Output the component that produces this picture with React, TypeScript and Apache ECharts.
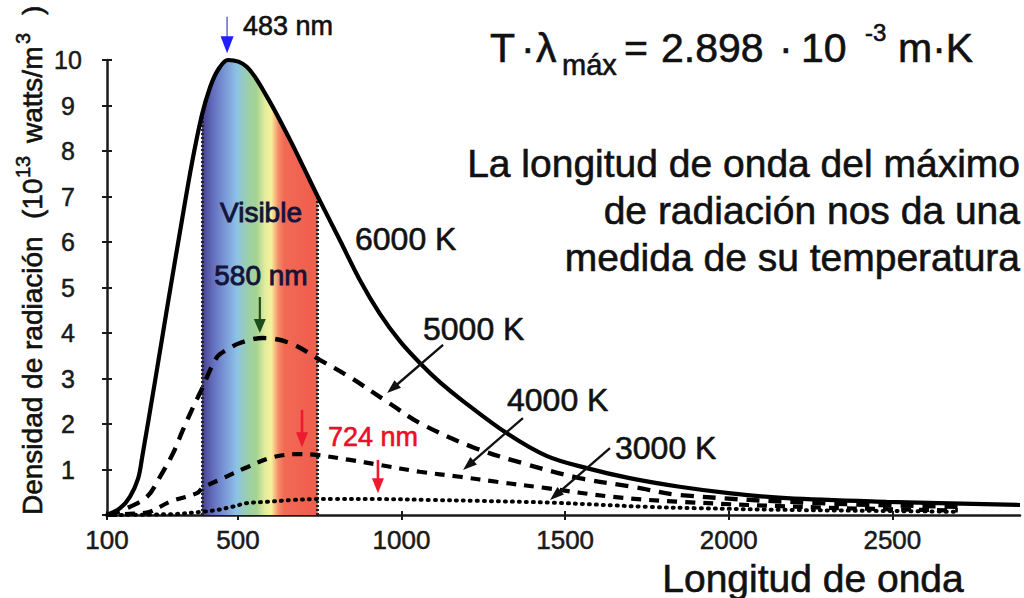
import React, { useEffect, useRef } from "react";
import * as echarts from "echarts";

const FONT = "'Liberation Sans', Arial, Helvetica, sans-serif";

// axes
const X_MIN = 100;
const X_MAX = 2890;
const X_TICKS = [100, 500, 1000, 1500, 2000, 2500];
const Y_MIN = 0;
const Y_MAX = 10;
const Y_STEP = 1;

// 6000 K (solid)
const NM_6000 = [100, 140, 170, 195, 207, 247, 286, 326, 360, 390, 415, 439, 470, 527, 589, 659, 700, 744, 811, 873, 934, 995, 1056, 1117, 1187, 1321, 1443, 1566, 1697, 1850, 2000, 2176, 2482, 2890];
const V_6000 = [0, 0.15, 0.4, 0.8, 1.25, 2.95, 4.65, 6.35, 7.75, 8.79, 9.4, 9.78, 10.0, 9.85, 9.19, 8.25, 7.65, 7.0, 6.05, 5.16, 4.42, 3.82, 3.34, 2.92, 2.51, 1.8, 1.3, 1.03, 0.81, 0.62, 0.48, 0.37, 0.29, 0.22];

// 5000 K (dashed)
const NM_5000 = [100, 149, 222, 262, 302, 332, 363, 384, 436, 466, 506, 576, 659, 750, 842, 964, 1056, 1218, 1370, 1544, 1706, 1850, 2277, 2714];
const V_5000 = [0, 0.11, 0.4, 0.84, 1.36, 1.87, 2.37, 2.68, 3.47, 3.63, 3.78, 3.89, 3.78, 3.41, 3.03, 2.45, 2.02, 1.49, 1.14, 0.81, 0.62, 0.44, 0.26, 0.18];

// 4000 K (short dashes)
const NM_4000 = [100, 180, 231, 292, 375, 393, 455, 528, 607, 689, 741, 842, 934, 1056, 1178, 1291, 1443, 1645, 1850, 2300, 2700];
const V_4000 = [0, 0.03, 0.07, 0.29, 0.48, 0.6, 0.81, 1.05, 1.27, 1.34, 1.32, 1.21, 1.1, 0.95, 0.84, 0.73, 0.59, 0.4, 0.29, 0.16, 0.1];

// 3000 K (dotted)
const NM_3000 = [100, 300, 390, 436, 482, 527, 589, 668, 741, 790, 924, 1095, 1239, 1462, 1749, 1902, 2200, 2600, 2700];
const V_3000 = [0, 0.02, 0.07, 0.11, 0.18, 0.26, 0.29, 0.33, 0.35, 0.35, 0.35, 0.33, 0.31, 0.27, 0.18, 0.15, 0.11, 0.08, 0.07];

// visible band
const VISIBLE_FROM = 390;
const VISIBLE_TO = 744;
const SPECTRUM = [
  [0, "#46408c"],
  [0.1, "#6470bf"],
  [0.2, "#7a98d6"],
  [0.3, "#8cc2e6"],
  [0.4, "#9ccfa8"],
  [0.47, "#a6d392"],
  [0.55, "#e6ee9e"],
  [0.6, "#f6f09a"],
  [0.66, "#f48c68"],
  [0.71, "#f16a54"],
  [1, "#ef5c4c"],
];

// arrows [from, to] in data coordinates (nm, value)
const ARROW_PEAK_6000 = [[467, 10.95], [467, 10.15]];
const ARROW_PEAK_5000 = [[567, 4.79], [567, 4.0]];
const ARROW_PEAK_4000 = [[696, 2.31], [696, 1.49]];
const ARROW_PEAK_3000 = [[928, 1.21], [928, 0.48]];
const ARROW_LABEL_5000 = [[1127, 3.74], [956, 2.68]];
const ARROW_LABEL_4000 = [[1371, 2.13], [1188, 0.99]];
const ARROW_LABEL_3000 = [[1637, 1.47], [1454, 0.33]];

const SMOOTH = 0.35;

function zip(xs: number[], ys: number[]) {
  return xs.map((x, i) => [x, ys[i]]);
}

function valueAt(xs: number[], ys: number[], x: number) {
  const i = xs.indexOf(x);
  return ys[i];
}

function arrow(p1: number[], p2: number[], color: string, shaftColor: string, shaftW: number, headL: number, headW: number) {
  const dx = p2[0] - p1[0];
  const dy = p2[1] - p1[1];
  const len = Math.sqrt(dx * dx + dy * dy);
  const ux = dx / len;
  const uy = dy / len;
  const bx = p2[0] - ux * headL;
  const by = p2[1] - uy * headL;
  const nx = -uy;
  const ny = ux;
  return [
    {
      type: "line",
      shape: { x1: p1[0], y1: p1[1], x2: bx + ux * 2, y2: by + uy * 2 },
      style: { stroke: shaftColor, lineWidth: shaftW },
      z: 20,
    },
    {
      type: "polygon",
      shape: {
        points: [
          [p2[0], p2[1]],
          [bx + nx * headW / 2, by + ny * headW / 2],
          [bx - nx * headW / 2, by - ny * headW / 2],
        ],
      },
      style: { fill: color },
      z: 21,
    },
  ];
}

function txt(text: string, x: number, y: number, size: number, opts: any = {}) {
  const fill = opts.fill || "#111";
  return {
    type: "text",
    z: 30,
    style: {
      text,
      x,
      y,
      fontSize: size,
      fontFamily: FONT,
      fill,
      stroke: fill,
      lineWidth: opts.bold === undefined ? 0.6 : opts.bold,
      textAlign: opts.align || "left",
      textVerticalAlign: "middle",
    },
  };
}

export default function App() {
  const ref = useRef<HTMLDivElement>(null);

  useEffect(() => {
    if (!ref.current) return;
    const chart = echarts.init(ref.current, null, { renderer: "svg" });

    const visibleData = zip(NM_6000, V_6000).filter((p) => p[0] >= VISIBLE_FROM && p[0] <= VISIBLE_TO);
    const vFrom = valueAt(NM_6000, V_6000, VISIBLE_FROM);
    const vTo = valueAt(NM_6000, V_6000, VISIBLE_TO);

    const axisColor = "#1a1a1a";
    const labelStyle = {
      fontSize: 26,
      fontFamily: FONT,
      color: "#1a1a1a",
      textBorderColor: "#1a1a1a",
      textBorderWidth: 0.5,
    };

    chart.setOption({
      animation: false,
      backgroundColor: "#ffffff",
      grid: { left: 107, right: 4, top: 60, bottom: 83 },
      xAxis: [
        {
          type: "value",
          min: X_MIN,
          max: X_MAX,
          axisLine: { show: true, lineStyle: { color: axisColor, width: 2.5 } },
          axisTick: { show: true, customValues: X_TICKS, length: 5, lineStyle: { color: axisColor, width: 2 } },
          axisLabel: { ...labelStyle, customValues: X_TICKS, margin: 12, formatter: (v: number) => String(v) },
          splitLine: { show: false },
        },
        {
          type: "value",
          min: X_MIN,
          max: X_MAX,
          position: "bottom",
          axisLine: { show: false },
          axisTick: { show: true, inside: true, customValues: X_TICKS, length: 4, lineStyle: { color: axisColor, width: 2 } },
          axisLabel: { show: false },
          splitLine: { show: false },
        },
      ],
      yAxis: [
        {
          type: "value",
          min: Y_MIN,
          max: Y_MAX,
          interval: Y_STEP,
          axisLine: { show: true, lineStyle: { color: axisColor, width: 2.5 } },
          axisTick: { show: true, length: 5, lineStyle: { color: axisColor, width: 2 } },
          axisLabel: {
            ...labelStyle,
            fontSize: 25,
            formatter: (v: number) => (v === 0 ? "" : String(v)),
            align: "center",
            margin: 39,
          },
          splitLine: { show: false },
        },
        {
          type: "value",
          min: Y_MIN,
          max: Y_MAX,
          interval: Y_STEP,
          position: "left",
          axisLine: { show: false },
          axisTick: { show: true, inside: true, length: 5, lineStyle: { color: axisColor, width: 2 } },
          axisLabel: { show: false },
          splitLine: { show: false },
        },
      ],
      series: [
        {
          name: "Visible",
          type: "line",
          data: visibleData,
          smooth: SMOOTH,
          symbol: "none",
          clip: false,
          lineStyle: { width: 0, opacity: 0 },
          areaStyle: {
            opacity: 1,
            color: new echarts.graphic.LinearGradient(
              0, 0, 1, 0,
              SPECTRUM.map((s) => ({ offset: s[0] as number, color: s[1] as string }))
            ),
          },
          z: 1,
          markLine: {
            silent: true,
            symbol: ["none", "none"],
            label: { show: false },
            lineStyle: { type: [2, 2], color: "#22222e", width: 3 },
            data: [
              [{ coord: [VISIBLE_FROM, 0] }, { coord: [VISIBLE_FROM, vFrom] }],
              [{ coord: [VISIBLE_TO, 0] }, { coord: [VISIBLE_TO, vTo] }],
            ],
          },
        },
        {
          name: "6000 K",
          type: "line",
          data: zip(NM_6000, V_6000),
          smooth: SMOOTH,
          symbol: "none",
          clip: false,
          lineStyle: { color: "#000", width: 4.2 },
          z: 5,
        },
        {
          name: "5000 K",
          type: "line",
          data: zip(NM_5000, V_5000),
          smooth: SMOOTH,
          symbol: "none",
          clip: false,
          lineStyle: { color: "#000", width: 4.4, type: [13, 9] },
          z: 5,
        },
        {
          name: "4000 K",
          type: "line",
          data: zip(NM_4000, V_4000),
          smooth: SMOOTH,
          symbol: "none",
          clip: false,
          lineStyle: { color: "#000", width: 4.2, type: [10, 8] },
          z: 5,
        },
        {
          name: "3000 K",
          type: "line",
          data: zip(NM_3000, V_3000),
          smooth: SMOOTH,
          symbol: "none",
          clip: false,
          lineStyle: { color: "#000", width: 4, type: [1, 6], cap: "round" },
          z: 5,
        },
      ],
    });

    const px = (p: number[]) => chart.convertToPixel({ seriesIndex: 1 }, p) as number[];
    const A = (pts: number[][], color: string, shaft: string, w: number, hl: number, hw: number) =>
      arrow(px(pts[0]), px(pts[1]), color, shaft, w, hl, hw);

    const graphic: any[] = [
      ...A(ARROW_PEAK_6000, "#1f1fff", "#7070d8", 1.6, 17, 13),
      ...A(ARROW_PEAK_5000, "#1d4d1d", "#1d4d1d", 2.2, 14, 12),
      ...A(ARROW_PEAK_4000, "#ee1a30", "#ee1a30", 2.6, 15, 12),
      ...A(ARROW_PEAK_3000, "#ee1a30", "#ee1a30", 2.6, 15, 12),
      ...A(ARROW_LABEL_5000, "#111", "#111", 2.4, 14, 10),
      ...A(ARROW_LABEL_4000, "#111", "#111", 2.4, 14, 10),
      ...A(ARROW_LABEL_3000, "#111", "#111", 2.4, 14, 10),

      txt("483 nm", 243, 26, 27),
      txt("Visible", 261, 212, 28, { align: "center", fill: "#14143a", bold: 0.9 }),
      txt("580 nm", 261, 275, 28, { align: "center", fill: "#14143a", bold: 0.9 }),
      txt("724 nm", 328, 437, 27, { fill: "#e8102a" }),
      txt("6000 K", 355, 239, 32),
      txt("5000 K", 423, 329, 32),
      txt("4000 K", 507, 400, 32),
      txt("3000 K", 615, 448, 32),

      // formula
      txt("T", 490, 48, 41),
      txt("·", 521, 48, 41),
      txt("λ", 536, 48, 41),
      txt("máx", 562, 65, 29),
      txt("=", 624, 48, 41),
      txt("2.898", 661, 48, 41),
      txt("·", 779, 48, 41),
      txt("10", 801, 48, 41),
      txt("-3", 865, 32, 24),
      txt("m·K", 898, 48, 41),

      // description
      txt("La longitud de onda del máximo", 1020, 163, 39, { align: "right" }),
      txt("de radiación nos da una", 1020, 210, 39, { align: "right" }),
      txt("medida de su temperatura", 1020, 257, 39, { align: "right" }),

      // x axis name
      txt("Longitud de onda", 813, 578, 39, { align: "center" }),

      // y axis name (rotated)
      {
        type: "group",
        x: 32,
        y: 515,
        rotation: Math.PI / 2,
        children: [
          txt("Densidad de radiación", 0, 0, 28),
          txt("(10", 296, 0, 28),
          txt("13", 337, -9, 20),
          txt("watts/m", 372, 0, 28),
          txt("3", 471, -9, 20),
          txt(")", 500, 0, 28),
        ],
      },
    ];

    chart.setOption({ graphic });

    return () => {
      chart.dispose();
    };
  }, []);

  return (
    <div
      ref={ref}
      style={{ position: "fixed", left: 0, top: 0, width: 1024, height: 598, background: "#fff" }}
    />
  );
}
